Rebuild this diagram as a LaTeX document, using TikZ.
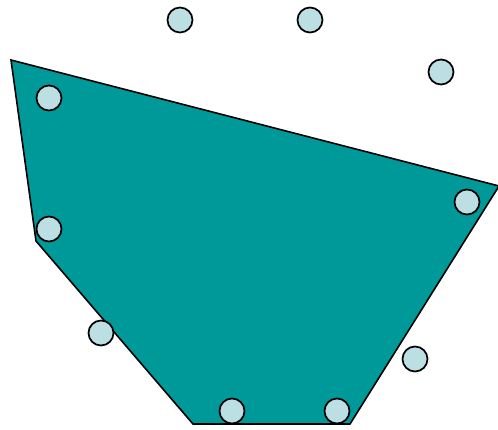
\documentclass[tikz,border=0pt]{standalone}
\definecolor{hullteal}{HTML}{009999}
\definecolor{ptfill}{HTML}{BCDFE3}
\tikzset{pt/.style={circle,draw=black,fill=ptfill,line width=1.7pt,minimum size=25pt,inner sep=0pt},
hull/.style={draw=black,fill=hullteal,line width=1.6pt,line join=miter}}
\begin{document}
\begin{tikzpicture}[x=1pt,y=-1pt]
\useasboundingbox (0,0) rectangle (498,429);
\coordinate (v1) at (11,60);
\coordinate (v2) at (499,186);
\coordinate (v3) at (350,424);
\coordinate (v4) at (193,424);
\coordinate (v5) at (36,241);
\draw[hull] (v1) -- (v2) -- (v3) -- (v4) -- (v5) -- cycle;
\node[pt] (p1) at (180,20) {};
\node[pt] (p2) at (310,20) {};
\node[pt] (p3) at (441,72) {};
\node[pt] (p4) at (49,98) {};
\node[pt] (p5) at (467,202) {};
\node[pt] (p6) at (49,229) {};
\node[pt] (p7) at (101,333) {};
\node[pt] (p8) at (415,359) {};
\node[pt] (p9) at (232,411) {};
\node[pt] (p10) at (337,411) {};
\end{tikzpicture}
\end{document}
